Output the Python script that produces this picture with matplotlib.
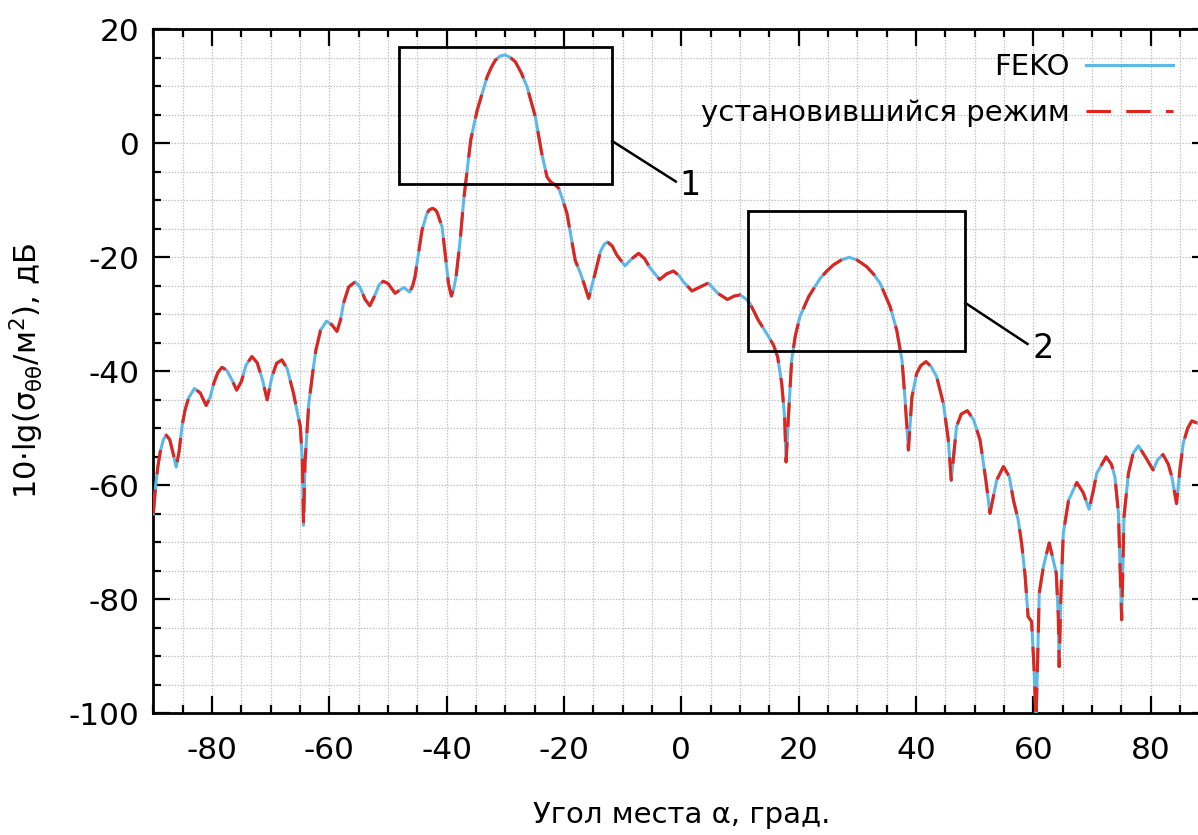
import matplotlib
matplotlib.use("Agg")
import matplotlib.pyplot as plt
from matplotlib.patches import Rectangle
from matplotlib.ticker import MultipleLocator

plt.rcParams['font.family'] = ['DejaVu Sans']
plt.rcParams['axes.unicode_minus'] = False
plt.rcParams['mathtext.default'] = 'regular'

# ---- data ----
angles = [
    -90.0, -89.6, -89.2, -88.8, -88.3, -87.8, -87.2, -86.6, -86.1, -85.6,
    -85.1, -84.6, -84.0, -83.0, -82.0, -81.0, -80.3, -79.7, -79.0, -78.3,
    -77.5, -76.6, -75.8, -75.0, -74.2, -73.2, -72.3, -71.4, -70.6, -69.8,
    -69.0, -68.1, -67.2, -66.1, -65.4, -64.95, -64.6, -64.4, -64.15, -63.9,
    -63.5, -62.7, -62.3, -61.5, -60.5, -59.6, -58.7, -58.1, -57.6, -56.7,
    -55.6, -54.8, -53.9, -53.1, -52.3, -51.5, -50.8, -50.0, -48.8, -47.3,
    -46.3, -45.8, -45.4, -44.8, -44.2, -43.4, -43.0, -42.4, -41.9, -41.6,
    -40.8, -40.2, -39.7, -39.2, -38.8, -38.4, -37.7, -37.1, -36.7, -35.9,
    -35.3, -34.8, -33.1, -32.4, -31.7, -30.9, -30.1, -29.2, -28.3, -27.3,
    -26.3, -24.9, -23.8, -22.9, -22.4, -22.1, -21.5, -20.9, -20.2, -19.5,
    -18.7, -18.1, -17.2, -16.6, -15.8, -15.2, -14.7, -13.8, -13.2, -12.6,
    -11.8, -11.0, -9.6, -8.5, -7.3, -6.3, -5.3, -3.7, -2.5, -1.35,
    -0.4, 0.36, 1.8, 3.0, 4.6, 6.2, 7.85, 9.0, 10.0, 11.0,
    11.7, 13.1, 14.85, 15.7, 16.4, 17.1, 17.6, 17.85, 18.25, 18.8,
    19.4, 20.2, 21.7, 23.65, 24.8, 25.9, 27.2, 28.6, 30.0, 31.6,
    32.8, 33.9, 35.6, 36.7, 37.6, 38.1, 38.7, 39.3, 40.1, 40.8,
    41.7, 42.6, 43.5, 44.65, 45.5, 46.0, 46.9, 47.7, 48.75, 49.8,
    50.9, 51.9, 52.6, 53.75, 54.9, 55.9, 56.6, 57.4, 58.0, 58.6,
    59.1, 59.7, 60.1, 60.45, 60.7, 61.0, 61.7, 62.7, 63.9, 64.25,
    64.4, 64.7, 65.1, 66.0, 67.4, 68.5, 69.5, 70.2, 70.8, 72.4,
    73.3, 73.9, 74.5, 75.05, 75.45, 76.2, 77.0, 77.9, 79.2, 80.4,
    81.2, 82.1, 83.0, 83.6, 84.4, 85.0, 85.55, 86.3, 87.0, 88.0,
]

feko_db = [
    -65.0, -60.0, -56.5, -54.0, -52.0, -51.2, -52.0, -54.5, -56.8, -54.0,
    -49.5, -46.8, -44.7, -43.0, -43.8, -46.0, -44.5, -42.1, -40.2, -39.3,
    -39.8, -41.5, -43.3, -41.8, -38.9, -37.4, -38.5, -41.5, -45.0, -41.0,
    -38.6, -38.0, -39.5, -43.9, -47.5, -49.7, -55.6, -67.0, -56.0, -52.1,
    -45.6, -39.2, -36.3, -32.8, -31.2, -31.8, -33.0, -31.0, -28.1, -25.2,
    -24.3, -25.2, -27.4, -28.5, -26.8, -24.8, -24.2, -24.6, -26.3, -25.3,
    -26.1, -25.0, -23.4, -19.3, -15.2, -12.4, -11.7, -11.4, -11.7, -12.2,
    -14.6, -19.9, -24.6, -26.8, -25.5, -23.4, -17.0, -9.9, -6.4, 0.6,
    3.5, 5.8, 11.7, 13.3, 14.6, 15.3, 15.5, 15.1, 14.3, 12.4,
    9.9, 4.7, -1.75, -5.9, -6.6, -6.9, -7.3, -7.9, -10.0, -12.3,
    -17.0, -20.5, -22.8, -24.6, -27.2, -24.8, -22.8, -19.0, -17.8, -17.3,
    -18.0, -19.6, -21.5, -20.3, -19.3, -20.2, -21.9, -23.9, -22.9, -22.4,
    -23.2, -24.3, -25.9, -25.3, -24.5, -26.3, -27.4, -26.8, -26.6, -27.3,
    -28.1, -31.0, -33.9, -35.4, -37.4, -42.1, -48.0, -55.9, -48.0, -38.0,
    -33.9, -30.4, -26.9, -23.7, -22.4, -21.35, -20.5, -20.0, -20.5, -21.65,
    -23.0, -24.6, -28.7, -32.75, -38.0, -44.5, -53.8, -44.5, -40.4, -39.0,
    -38.3, -39.2, -40.9, -45.6, -52.0, -59.1, -49.7, -47.5, -46.9, -48.5,
    -52.0, -59.1, -64.9, -59.1, -56.7, -58.5, -62.6, -66.0, -70.2, -76.0,
    -83.05, -83.9, -91.8, -101.0, -91.8, -78.9, -74.3, -70.1, -75.4, -83.0,
    -91.8, -78.9, -68.4, -62.6, -59.5, -61.3, -64.2, -61.0, -57.9, -55.0,
    -56.3, -58.5, -64.9, -83.6, -65.5, -57.9, -54.4, -53.05, -55.2, -57.3,
    -55.5, -54.6, -56.3, -58.5, -63.2, -57.0, -52.6, -50.0, -48.7, -49.1,
]

steady_db = list(feko_db)

series_labels = ["FEKO", "установившийся режим"]
x_ticks = [-80, -60, -40, -20, 0, 20, 40, 60, 80]
y_ticks = [20, 0, -20, -40, -60, -80, -100]
x_label = "Угол места α, град."
y_label = "10·lg(σ$_{θθ}$/м$^{2}$), дБ"
callout_labels = ["1", "2"]

# ---- drawing ----
fig = plt.figure(figsize=(11.98, 8.35), dpi=100)
ax = fig.add_axes([0.128, 0.1457, 0.8815, 0.8192])

blue = '#5BB8E8'
red = '#E3241B'
ax.plot(angles, feko_db, color=blue, lw=2.2, label=series_labels[0], zorder=3)
ax.plot(angles, steady_db, color=red, lw=2.2, dashes=(8.0, 5.0),
        label=series_labels[1], zorder=4)

ax.set_xlim(-90, 90)
ax.set_ylim(-100, 20)
ax.set_xticks(x_ticks)
ax.set_yticks(y_ticks)
ax.xaxis.set_minor_locator(MultipleLocator(5))
ax.yaxis.set_minor_locator(MultipleLocator(5))
ax.grid(True, which='both', color='#c4c4c4', linestyle=(0, (1.2, 1.2)), lw=0.9)
ax.set_axisbelow(True)

ax.tick_params(which='both', direction='in', top=True, right=True,
               labelsize=22.5, width=1.6, color='black')
ax.tick_params(which='major', length=12)
ax.tick_params(which='minor', length=6)
ax.tick_params(axis='x', pad=16)
ax.tick_params(axis='y', pad=10)
for s in ax.spines.values():
    s.set_linewidth(2.0)

ax.set_xlabel(x_label, fontsize=21, labelpad=26)
ax.set_ylabel(y_label, fontsize=22, labelpad=16)

# callout boxes
ax.add_patch(Rectangle((-48.2, -7.2), 36.4, 24.1, fill=False, ec='black', lw=2.0, zorder=5))
ax.add_patch(Rectangle((11.3, -36.4), 37.1, 24.5, fill=False, ec='black', lw=2.0, zorder=5))
ax.plot([-11.8, -0.95], [0.4, -6.7], color='black', lw=1.8, zorder=5)
ax.plot([48.4, 59.0], [-28.0, -35.2], color='black', lw=1.8, zorder=5)
ax.text(1.5, -7.4, callout_labels[0], fontsize=24, ha='center', va='center')
ax.text(61.7, -36.0, callout_labels[1], fontsize=24, ha='center', va='center')

leg = ax.legend(loc='upper right', bbox_to_anchor=(0.977, 0.982), frameon=False,
                markerfirst=False, fontsize=21, handlelength=3.0,
                handletextpad=0.55, labelspacing=0.6, borderaxespad=0)

fig.savefig('out.png', dpi=100, facecolor='white')
